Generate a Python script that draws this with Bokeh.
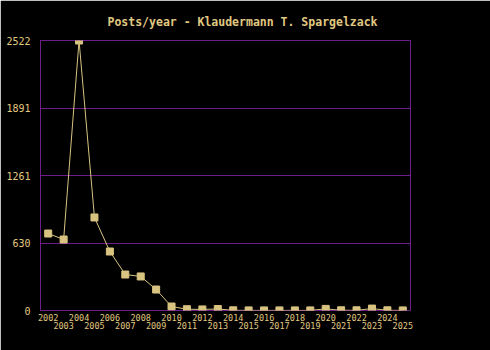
from bokeh.plotting import figure
from bokeh.models import LinearAxis, FixedTicker, Range1d
from bokeh.embed import file_html
from bokeh.resources import INLINE

years = list(range(2002, 2026))
posts = [719, 663, 2522, 869, 551, 336, 318, 196, 37, 12, 10, 14, 2, 1, 1, 1, 1, 1, 15, 2, 2, 18, 2, 1]
y_ticks = [0, 630.5, 1261, 1891.5, 2522]
y_labels = ["0", "630", "1261", "1891", "2522"]
title = "Posts/year - Klaudermann T. Spargelzack"

TXT = "#e0c882"
PUR = "#6e1e8c"
FONT = "DejaVu Sans Mono"

p = figure(width=490, height=350, output_backend="svg", toolbar_location=None,
           x_range=Range1d(years[0] - 0.5, years[-1] + 0.5),
           y_range=Range1d(0, y_ticks[-1]),
           x_axis_location=None, y_axis_location=None,
           min_border_left=40, min_border_right=80, min_border_top=40, min_border_bottom=40)
p.background_fill_color = "black"
p.border_fill_color = "black"
p.outline_line_color = PUR
p.outline_line_width = 1

p.title.text = title
p.title.text_color = TXT
p.title.text_font = FONT
p.title.text_font_size = "11.5px"
p.title.text_font_style = "bold"
p.title.align = "left"
p.title.offset = 67
p.title.standoff = 23

# y axis
ya = LinearAxis(ticker=FixedTicker(ticks=y_ticks))
ya.major_label_overrides = {t: l for t, l in zip(y_ticks, y_labels)}
ya.axis_line_color = None
ya.major_tick_line_color = None
ya.minor_tick_line_color = None
ya.major_tick_out = 0
ya.major_tick_in = 0
ya.major_label_text_color = TXT
ya.major_label_text_font = FONT
ya.major_label_text_font_size = "10px"
ya.major_label_standoff = 10
p.add_layout(ya, "left")

# x axes: two rows
even = [y for y in years if y % 2 == 0]
odd = [y for y in years if y % 2 == 1]
for ticks, so in ((even, 3), (odd, -2)):
    xa = LinearAxis(ticker=FixedTicker(ticks=ticks))
    xa.major_label_overrides = {t: str(t) for t in ticks}
    xa.axis_line_color = None
    xa.major_tick_line_color = None
    xa.minor_tick_line_color = None
    xa.major_label_text_color = TXT
    xa.major_label_text_font = FONT
    xa.major_label_text_font_size = "8.5px"
    xa.major_label_standoff = so
    xa.major_tick_out = 0
    xa.major_tick_in = 0
    p.add_layout(xa, "below")

p.xgrid.visible = False
p.ygrid.ticker = FixedTicker(ticks=y_ticks[1:-1])
p.ygrid.grid_line_color = PUR
p.ygrid.grid_line_width = 1

p.line(years, posts, line_color="#d8c480", line_width=1)
p.scatter(years, posts, marker="square", size=7, fill_color="#d8c480", line_color="#d8c480")

open("out.html", "w").write(file_html(p, INLINE))
